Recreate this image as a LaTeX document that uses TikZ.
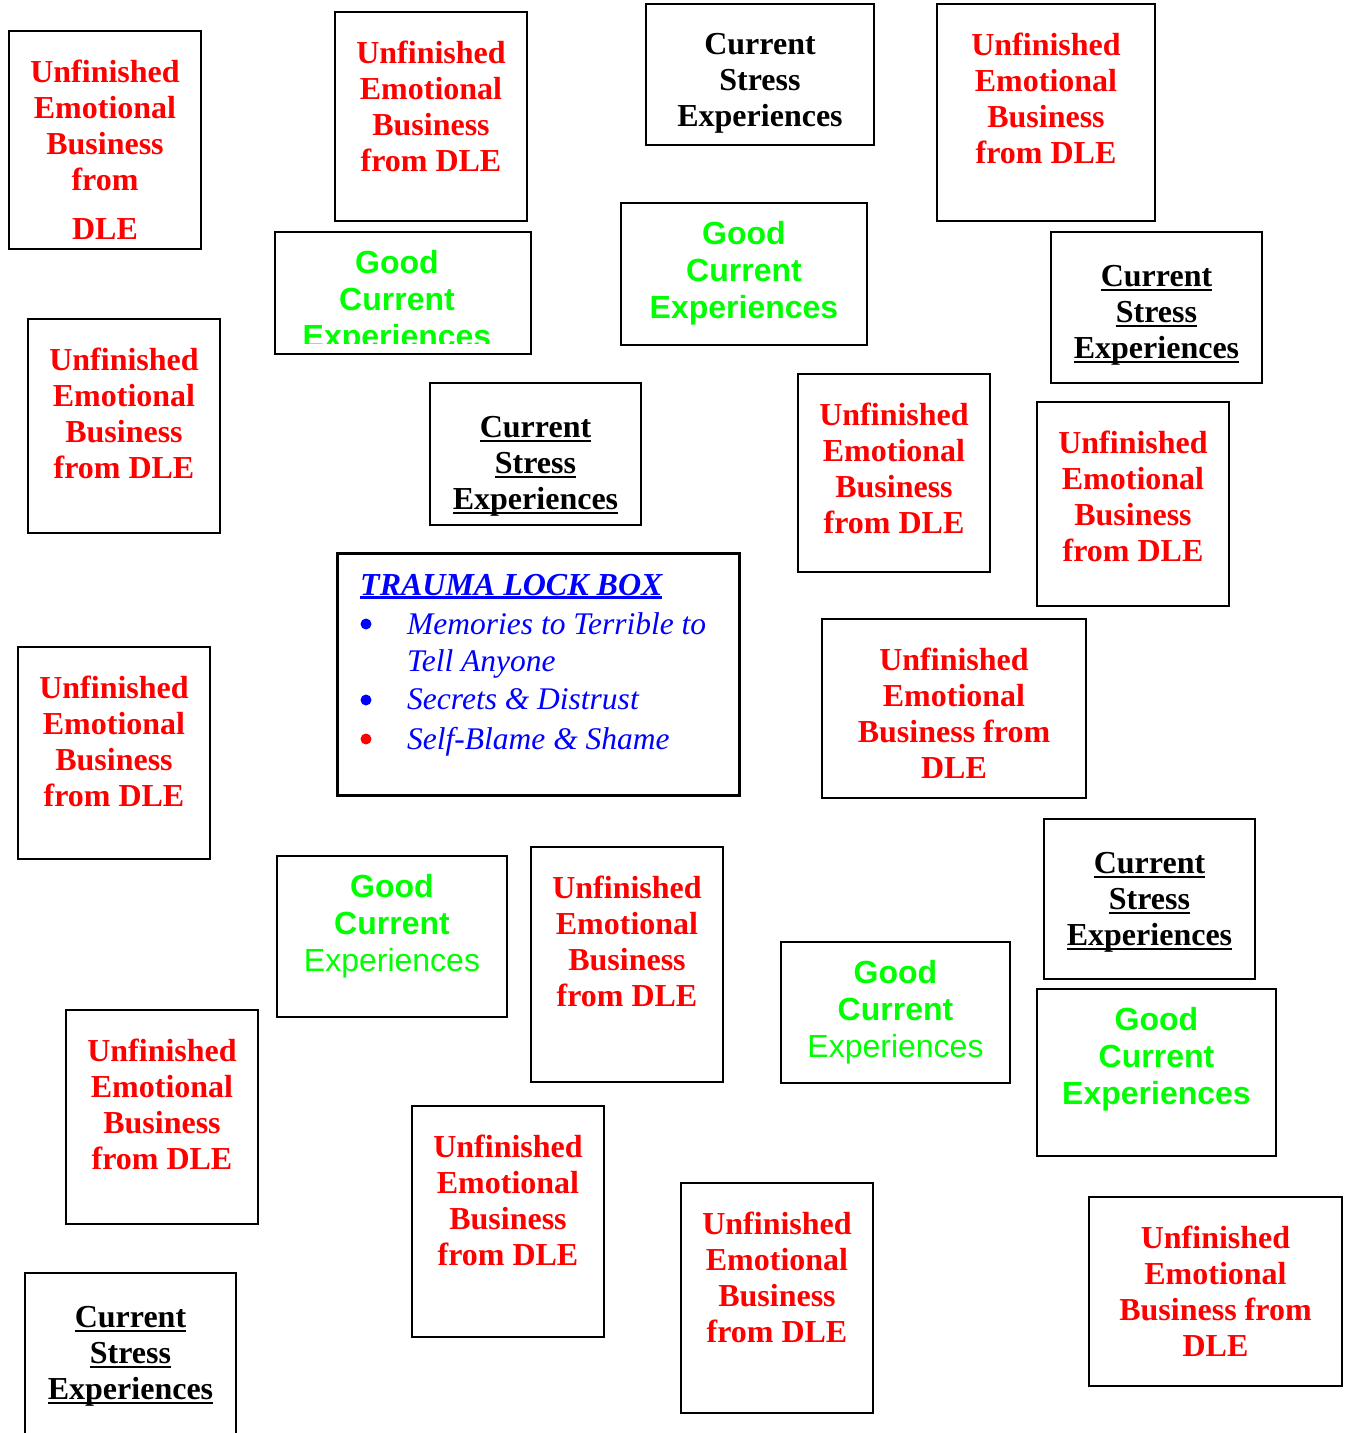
\documentclass[tikz,border=0pt]{standalone}
\usepackage{fontspec}
\setmainfont{Liberation Serif}
\setsansfont{Liberation Sans}
\usetikzlibrary{fit,calc}

\newcommand{\uln}[2][1.6pt]{\setbox0\hbox{#2}\rlap{\rule[-4pt]{\wd0}{#1}}\box0}

\tikzset{
  card/.style={draw, line width=1.6pt, inner sep=0pt},
  uebtext/.style={text=red, font=\fontsize{32}{36}\selectfont\bfseries, align=center, anchor=north, inner sep=0pt},
  stresstext/.style={font=\fontsize{32}{36}\selectfont\bfseries, align=center, anchor=north, inner sep=0pt},
  goodtext/.style={text=green, font=\fontsize{32}{37}\selectfont\sffamily\bfseries, align=center, anchor=north, inner sep=0pt},
  lockitem/.style={text=blue, font=\fontsize{31.5}{37}\selectfont\itshape, align=left, anchor=north west, inner sep=0pt},
  bullet/.style={circle, inner sep=0pt, minimum size=11pt},
}

\begin{document}
\begin{tikzpicture}[x=1pt, y=-1pt]
    \useasboundingbox (0,0) rectangle (1350,1433);
    \clip (0,0) rectangle (1350,1433);
    % unfinished emotional business
    \node[card, fit={(9,31) (201,249)}] (ueb1) {};
    \node[uebtext] (ueb1-txt) at ($(ueb1.north)+(0,30)$) {Unfinished\\Emotional\\Business\\from\\[13pt]DLE};
    \foreach \i/\xa/\ya/\xb/\yb in {2/335/12/527/221, 4/937/4/1155/221, 8/28/319/220/533,
        10/798/374/990/572, 11/1037/402/1229/606, 14/18/647/210/859, 16/531/847/723/1082,
        20/66/1010/258/1224, 21/412/1106/604/1337, 22/681/1183/873/1413}{
        \node[card, fit={(\xa,\ya) (\xb,\yb)}] (ueb\i) {};
        \node[uebtext] (ueb\i-txt) at ($(ueb\i.north)+(0,30)$) {Unfinished\\Emotional\\Business\\from DLE};
    }
    \foreach \i/\xa/\ya/\xb/\yb in {13/822/619/1086/798, 23/1089/1197/1342/1386}{
        \node[card, fit={(\xa,\ya) (\xb,\yb)}] (ueb\i) {};
        \node[uebtext] (ueb\i-txt) at ($(ueb\i.north)+(0,30)$) {Unfinished\\Emotional\\Business from\\DLE};
    }
    % current stress experiences
    \node[card, fit={(646,4) (874,145)}] (cse3) {};
    \node[stresstext] (cse3-txt) at ($(cse3.north)+(0,30)$) {Current\\Stress\\Experiences};
    \foreach \i/\xa/\ya/\xb/\yb in {7/1051/232/1262/383, 9/430/383/641/525,
        17/1044/819/1255/979, 24/25/1273/236/1460}{
        \node[card, fit={(\xa,\ya) (\xb,\yb)}] (cse\i) {};
        \node[stresstext] (cse\i-txt) at ($(cse\i.north)+(0,34)$) {\uln{Current}\\\uln{Stress}\\\uln{Experiences}};
    }
    % good current experiences
    \node[card, fit={(275,232) (531,354)}] (gce5) {};
    \begin{scope}
        \clip (275,232) rectangle (531,343);
        \node[goodtext] (gce5-txt) at ($(gce5.north)+(-6,19)$) {Good\\Current\\Experiences};
    \end{scope}
    \foreach \i/\xa/\ya/\xb/\yb in {6/621/203/867/345, 19/1037/989/1276/1156}{
        \node[card, fit={(\xa,\ya) (\xb,\yb)}] (gce\i) {};
        \node[goodtext] (gce\i-txt) at ($(gce\i.north)+(0,19)$) {Good\\Current\\Experiences};
    }
    \foreach \i/\xa/\ya/\xb/\yb in {15/277/856/507/1017, 18/781/942/1010/1083}{
        \node[card, fit={(\xa,\ya) (\xb,\yb)}] (gce\i) {};
        \node[goodtext] (gce\i-txt) at ($(gce\i.north)+(0,19)$) {Good\\Current\\\mdseries Experiences};
    }
    % trauma lock box
    \node[card, line width=3pt, fit={(337,553) (739,795)}] (lock) {};
    \node[lockitem, font=\fontsize{32}{37}\selectfont\bfseries\itshape] (lock-title) at (360,574) {\uln[3pt]{TRAUMA LOCK BOX}};
    \node[bullet, fill=blue] (dot1) at (366,624) {};
    \node[bullet, fill=blue] (dot2) at (366,700) {};
    \node[bullet, fill=red] (dot3) at (366,739) {};
    \node[lockitem] (item1) at (407,612) {Memories to Terrible to\\Tell Anyone};
    \node[lockitem] (item2) at (407,688) {Secrets \& Distrust};
    \node[lockitem] (item3) at (407,727) {Self-Blame \& Shame};
\end{tikzpicture}
\end{document}
